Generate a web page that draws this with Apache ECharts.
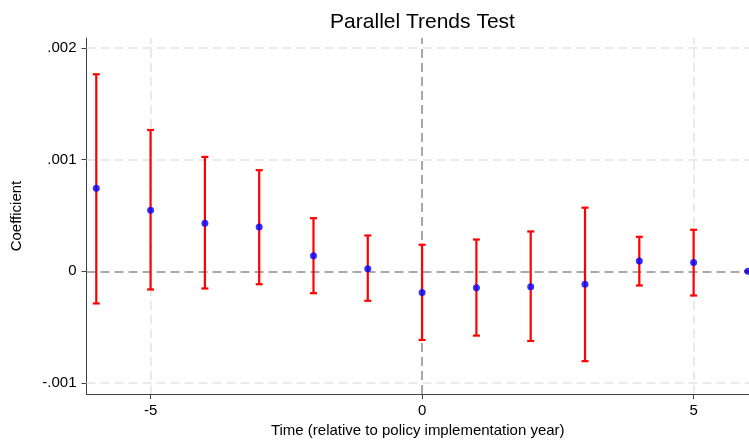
<!DOCTYPE html>
<html>
<head>
<meta charset="utf-8">
<script src="https://cdn.jsdelivr.net/npm/echarts@6/dist/echarts.min.js"></script>
<style>html,body{margin:0;padding:0;background:#fff;}#c{width:749px;height:443px;}</style>
</head>
<body>
<div id="c"></div>
<script>
const periods = [-6, -5, -4, -3, -2, -1, 0, 1, 2, 3, 4, 5, 6];
const coef  = [0.000743, 0.000547, 0.000431, 0.000396, 0.000140, 0.000024, -0.000190, -0.000148, -0.000139, -0.000116, 0.000093, 0.000078, 0];
const upper = [0.001765, 0.001266, 0.001025, 0.000906, 0.000476, 0.000321, 0.000238, 0.000285, 0.000357, 0.000570, 0.000309, 0.000372, 0];
const lower = [-0.000288, -0.000163, -0.000154, -0.000116, -0.000196, -0.000264, -0.000615, -0.000576, -0.000624, -0.000805, -0.000127, -0.000217, 0];
const xTicks = [-5, 0, 5];
const yTicks = [-0.001, 0, 0.001, 0.002];
const titleText = 'Parallel Trends Test';
const xName = 'Time (relative to policy implementation year)';
const yName = 'Coefficient';

const FONT = 'Liberation Sans, Arial, Helvetica, sans-serif';
function fmtY(v) {
  if (Math.abs(v) < 1e-12) return '0';
  return (v < 0 ? '-' : '') + Math.abs(v).toFixed(3).replace(/^0/, '');
}

const chart = echarts.init(document.getElementById('c'), null, {renderer: 'canvas'});
const ciData = periods.map((p, i) => [p, lower[i], upper[i]]);
const ptData = periods.map((p, i) => [p, coef[i]]);

const lightGrid = {color: '#e4e4e4', width: 1.5, type: [9, 5]};
const refLine = {color: '#8c8c8c', width: 1.5, type: [9, 5]};
const gridStyle = {color: '#e4e4e4', width: 1.5, type: [9, 5]};

chart.setOption({
  animation: false,
  backgroundColor: '#ffffff',
  graphic: [{
    type: 'text', x: 422.5, y: 22,
    style: {text: titleText, font: '21px ' + FONT, fill: '#000', textAlign: 'center', textVerticalAlign: 'middle'}
  }],
  grid: {left: 86.5, right: 0, top: 38, bottom: 47.3, containLabel: false},
  xAxis: {
    type: 'value', min: -6.18, max: 6.02,
    name: xName, nameLocation: 'middle', nameGap: 24,
    nameTextStyle: {fontFamily: FONT, fontSize: 15, color: '#000'},
    axisLine: {show: true, onZero: false, lineStyle: {color: '#404040', width: 1}},
    axisTick: {show: true, customValues: xTicks, length: 5, lineStyle: {color: '#404040'}},
    axisLabel: {show: true, customValues: xTicks, margin: 9, fontFamily: FONT, fontSize: 15, color: '#000'},
    splitLine: {show: false}
  },
  yAxis: {
    type: 'value', min: -0.0011, max: 0.00209,
    name: yName, nameLocation: 'middle', nameGap: 62,
    nameTextStyle: {fontFamily: FONT, fontSize: 15, color: '#000'},
    axisLine: {show: true, onZero: false, lineStyle: {color: '#404040', width: 1}},
    axisTick: {show: true, customValues: yTicks, length: 5, lineStyle: {color: '#404040'}},
    axisLabel: {show: true, customValues: yTicks, margin: 10, fontFamily: FONT, fontSize: 15, color: '#000', formatter: fmtY},
    splitLine: {show: false}
  },
  series: [
    {
      type: 'line', data: [], silent: true, z: 1,
      markLine: {
        silent: true, symbol: 'none', label: {show: false}, animation: false, z: 1,
        lineStyle: gridStyle,
        data: [
          {xAxis: xTicks[0]},
          {xAxis: xTicks[2]},
          [{coord: [-6.18, yTicks[0]]}, {coord: [6.02, yTicks[0]]}],
          [{coord: [-6.18, yTicks[2]]}, {coord: [6.02, yTicks[2]]}],
          [{coord: [-6.18, yTicks[3]]}, {coord: [6.02, yTicks[3]]}],
          {xAxis: 0, lineStyle: refLine},
          {yAxis: 0, lineStyle: refLine}
        ]
      }
    },
    {
      type: 'custom', z: 3, silent: true,
      data: ciData,
      encode: {x: 0, y: [1, 2]},
      renderItem: function (params, api) {
        const x = api.value(0);
        const lo = api.coord([x, api.value(1)]);
        const hi = api.coord([x, api.value(2)]);
        const hw = 3.5;
        const st = {stroke: '#ff0000', lineWidth: 2.2};
        return {
          type: 'group',
          children: [
            {type: 'line', shape: {x1: lo[0], y1: lo[1], x2: hi[0], y2: hi[1]}, style: st},
            {type: 'line', shape: {x1: hi[0] - hw, y1: hi[1], x2: hi[0] + hw, y2: hi[1]}, style: st},
            {type: 'line', shape: {x1: lo[0] - hw, y1: lo[1], x2: lo[0] + hw, y2: lo[1]}, style: st}
          ]
        };
      }
    },
    {
      type: 'scatter', z: 5, silent: true,
      data: ptData, symbol: 'circle', symbolSize: 7,
      itemStyle: {color: '#0000ff'}
    }
  ]
});
</script>
</body>
</html>
